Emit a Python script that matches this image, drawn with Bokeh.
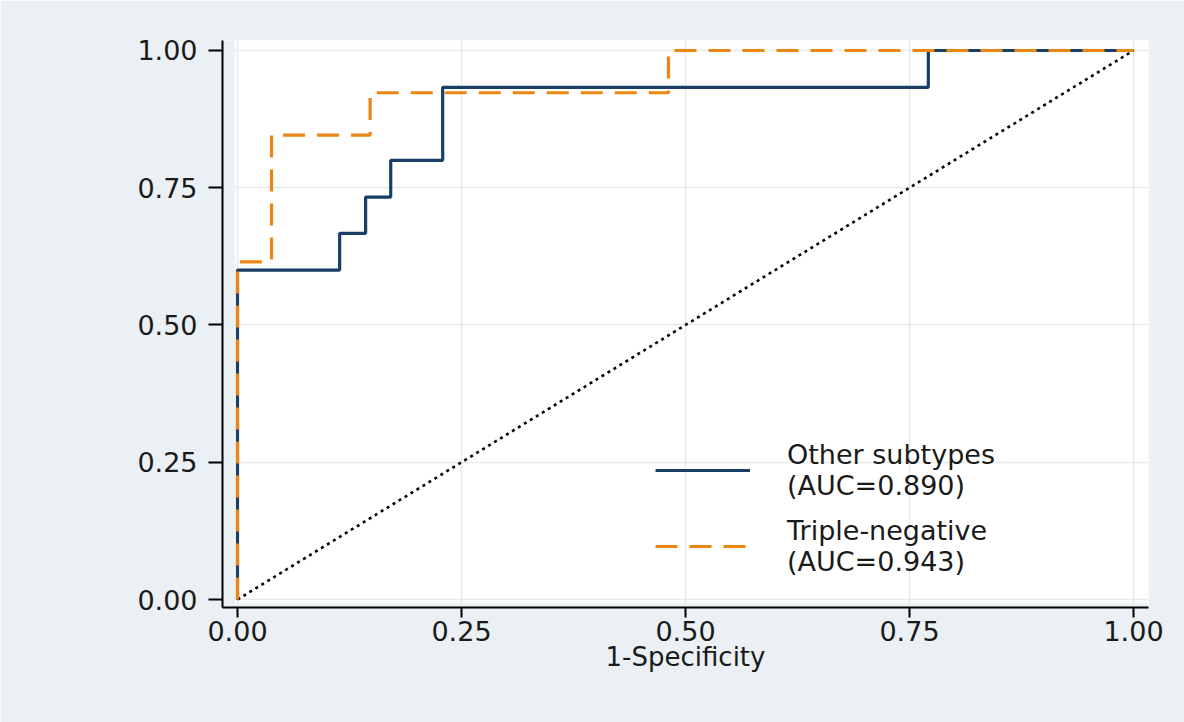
from bokeh.plotting import figure
from bokeh.models import (FixedTicker, Legend, LegendItem, BoxAnnotation, Range1d)
from bokeh.embed import file_html
from bokeh.resources import INLINE

# ---- data ----
other_fpr = [0.0, 0.0, 0.114, 0.143, 0.171, 0.229, 0.771, 1.0]
other_tpr = [0.0, 0.600, 0.667, 0.733, 0.800, 0.933, 1.000, 1.0]
triple_fpr = [0.0, 0.0, 0.038, 0.148, 0.481, 1.0]
triple_tpr = [0.0, 0.615, 0.846, 0.923, 1.000, 1.0]
diag_x = [0.0, 1.0]
diag_y = [0.0, 1.0]
tick_values = [0.0, 0.25, 0.5, 0.75, 1.0]
tick_labels = ["0.00", "0.25", "0.50", "0.75", "1.00"]
legend_labels = ["Other subtypes\n(AUC=0.890)", "Triple-negative\n(AUC=0.943)"]
x_title = "1-Specificity"

BG = "#EAF0F3"
NAVY = "#1A3F66"
ORANGE = "#EB8615"
FONT = "DejaVu Sans"

p = figure(width=1184, height=722, output_backend="svg", toolbar_location=None,
           x_range=Range1d(-0.01674, 1.01674), y_range=Range1d(-0.01457, 1.0182),
           min_border_left=222, min_border_right=36, min_border_top=40,
           min_border_bottom=115)
p.border_fill_color = BG
p.background_fill_color = "white"
p.outline_line_color = None

# light strips between offset axes and white plot region
p.add_layout(BoxAnnotation(right=-0.003, fill_color=BG, fill_alpha=1, line_alpha=0, level="underlay"))
p.add_layout(BoxAnnotation(top=-0.0075, fill_color=BG, fill_alpha=1, line_alpha=0, level="underlay"))

overrides = {v: l for v, l in zip(tick_values, tick_labels)}
for ax in (p.xaxis[0], p.yaxis[0]):
    ax.ticker = FixedTicker(ticks=tick_values)
    ax.major_label_overrides = overrides
    ax.minor_tick_line_color = None
    ax.axis_line_color = "black"
    ax.axis_line_width = 2
    ax.major_tick_line_color = "black"
    ax.major_tick_line_width = 2
    ax.major_tick_in = 0
    ax.major_label_text_font = FONT
    ax.major_label_text_font_size = "27px"
    ax.major_label_text_color = "#1a1a1a"

p.yaxis.major_tick_out = 14
p.yaxis.major_label_standoff = 11
p.xaxis.major_tick_out = 10
p.xaxis.major_label_standoff = 3
p.xaxis.axis_label = x_title
p.xaxis.axis_label_text_font = FONT
p.xaxis.axis_label_text_font_size = "26px"
p.xaxis.axis_label_text_font_style = "normal"
p.xaxis.axis_label_text_color = "#1a1a1a"
p.xaxis.axis_label_standoff = -2

for g in (p.xgrid[0], p.ygrid[0]):
    g.ticker = FixedTicker(ticks=tick_values)
    g.grid_line_color = "#E6EAEC"
    g.grid_line_width = 1.5

p.line(diag_x, diag_y, line_color="black", line_width=2.6, line_dash="3 4")
r1 = p.step(other_fpr, other_tpr, mode="after", line_color=NAVY, line_width=3.2)
r2 = p.step(triple_fpr, triple_tpr, mode="after", line_color=ORANGE, line_width=3.2,
            line_dash="22 12")

legend = Legend(items=[LegendItem(label=legend_labels[0], renderers=[r1]),
                       LegendItem(label=legend_labels[1], renderers=[r2])],
                location=(433, 30), orientation="vertical",
                background_fill_alpha=0, border_line_color=None,
                glyph_width=95, label_standoff=37, spacing=14, padding=0, margin=0,
                label_text_font=FONT, label_text_font_size="27px",
                label_text_line_height=0.9, label_text_color="#1a1a1a")
p.add_layout(legend)

open("out.html", "w").write(file_html(p, INLINE))
